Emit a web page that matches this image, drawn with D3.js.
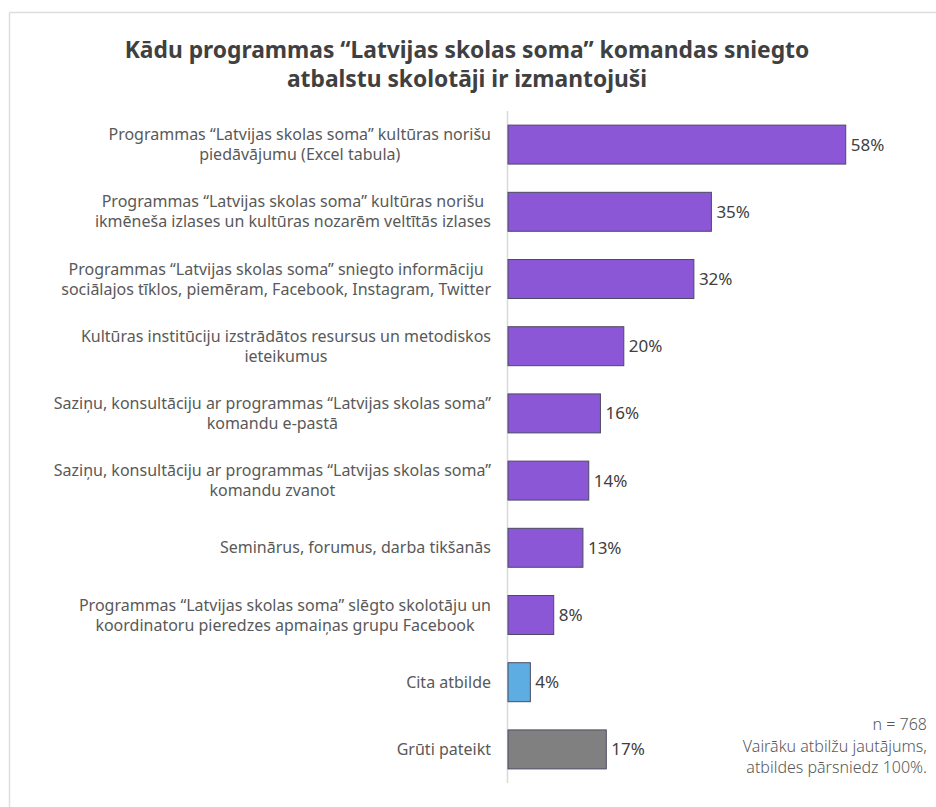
<!DOCTYPE html>
<html><head><meta charset="utf-8">
<script src="https://cdn.jsdelivr.net/npm/d3@7"></script>
<style>
html,body{margin:0;padding:0;background:#fff;}
svg{display:block;font-family:"Noto Sans","Open Sans",sans-serif;}
</style></head>
<body>
<svg id="chart" width="936" height="807"></svg>
<script>
const titleLines = ["Kādu programmas “Latvijas skolas soma” komandas sniegto", "atbalstu skolotāji ir izmantojuši"];
const categories = [
  "Programmas “Latvijas skolas soma” kultūras norišu\npiedāvājumu (Excel tabula)",
  "Programmas “Latvijas skolas soma” kultūras norišu\nikmēneša izlases un kultūras nozarēm veltītās izlases",
  "Programmas “Latvijas skolas soma” sniegto informāciju\nsociālajos tīklos, piemēram, Facebook, Instagram, Twitter",
  "Kultūras institūciju izstrādātos resursus un metodiskos\nieteikumus",
  "Saziņu, konsultāciju ar programmas “Latvijas skolas soma”\nkomandu e-pastā",
  "Saziņu, konsultāciju ar programmas “Latvijas skolas soma”\nkomandu zvanot",
  "Seminārus, forumus, darba tikšanās",
  "Programmas “Latvijas skolas soma” slēgto skolotāju un\nkoordinatoru pieredzes apmaiņas grupu Facebook",
  "Cita atbilde",
  "Grūti pateikt"
];
const values = [58, 35, 32, 20, 16, 14, 13, 8, 4, 17];
const groups = ["main","main","main","main","main","main","main","main","other","unsure"];
const noteLines = ["n = 768", "Vairāku atbilžu jautājums,", "atbildes pārsniedz 100%."];

const colorScale = d3.scaleOrdinal().domain(["main","other","unsure"]).range(["#8b57d6","#5dade2","#808080"]);

const svg = d3.select("#chart");

// frame
svg.append("line").attr("x1",9.5).attr("x2",936).attr("y1",12.5).attr("y2",12.5).attr("stroke","#dedede").attr("stroke-width",1.5);
svg.append("line").attr("x1",9.5).attr("x2",9.5).attr("y1",12.5).attr("y2",807).attr("stroke","#dedede").attr("stroke-width",1.5);

// title
svg.append("text").attr("x",467).attr("y",58).attr("text-anchor","middle")
  .attr("font-size",22.8).attr("font-weight","bold").attr("fill","#404040")
  .selectAll("tspan").data(titleLines).join("tspan")
  .attr("x",467).attr("dy",(d,i)=>i?29:0).text(d=>d);

const x0 = 507;
const x = d3.scaleLinear().domain([0,100]).range([x0, x0+584]);
const y = d3.scaleBand().domain(categories).range([111,783]).paddingInner(0.42).paddingOuter(0.21);

// axis line
svg.append("line").attr("x1",x0+0.5).attr("x2",x0+0.5).attr("y1",111).attr("y2",783).attr("stroke","#d9d9d9").attr("stroke-width",1.5);

// bars
svg.selectAll("rect.bar").data(values).join("rect").attr("class","bar")
  .attr("x",x(0)+1).attr("y",(d,i)=>y(categories[i]))
  .attr("width",d=>x(d)-x(0)-1).attr("height",y.bandwidth())
  .attr("fill",(d,i)=>colorScale(groups[i]))
  .attr("stroke","#4b4b63").attr("stroke-width",1);

// value labels
svg.selectAll("text.val").data(values).join("text").attr("class","val")
  .attr("x",d=>x(d)+5).attr("y",(d,i)=>y(categories[i])+y.bandwidth()/2)
  .attr("dy","0.35em").attr("font-size",17).attr("fill","#404040")
  .text(d=>d+"%");

// category labels (block right-aligned, lines centred)
const labelRight = 491;
categories.forEach((c,i)=>{
  const lines = c.split("\n");
  const g = svg.append("g");
  const cy = y(c)+y.bandwidth()/2;
  const lh = 20;
  const texts = lines.map((l,j)=>g.append("text").attr("font-size",16).attr("fill","#595959")
    .attr("text-anchor","middle").attr("y",cy + (j-(lines.length-1)/2)*lh).attr("dy","0.35em").text(l));
  const maxW = d3.max(texts, t=>t.node().getComputedTextLength());
  texts.forEach(t=>t.attr("x",labelRight - maxW/2));
});

// note
svg.append("text").attr("text-anchor","end").attr("font-size",16).attr("fill","#595959").attr("font-weight",300)
  .selectAll("tspan").data(noteLines).join("tspan")
  .attr("x",927).attr("y",(d,i)=>730+i*21.5).text(d=>d);
</script>
</body></html>
